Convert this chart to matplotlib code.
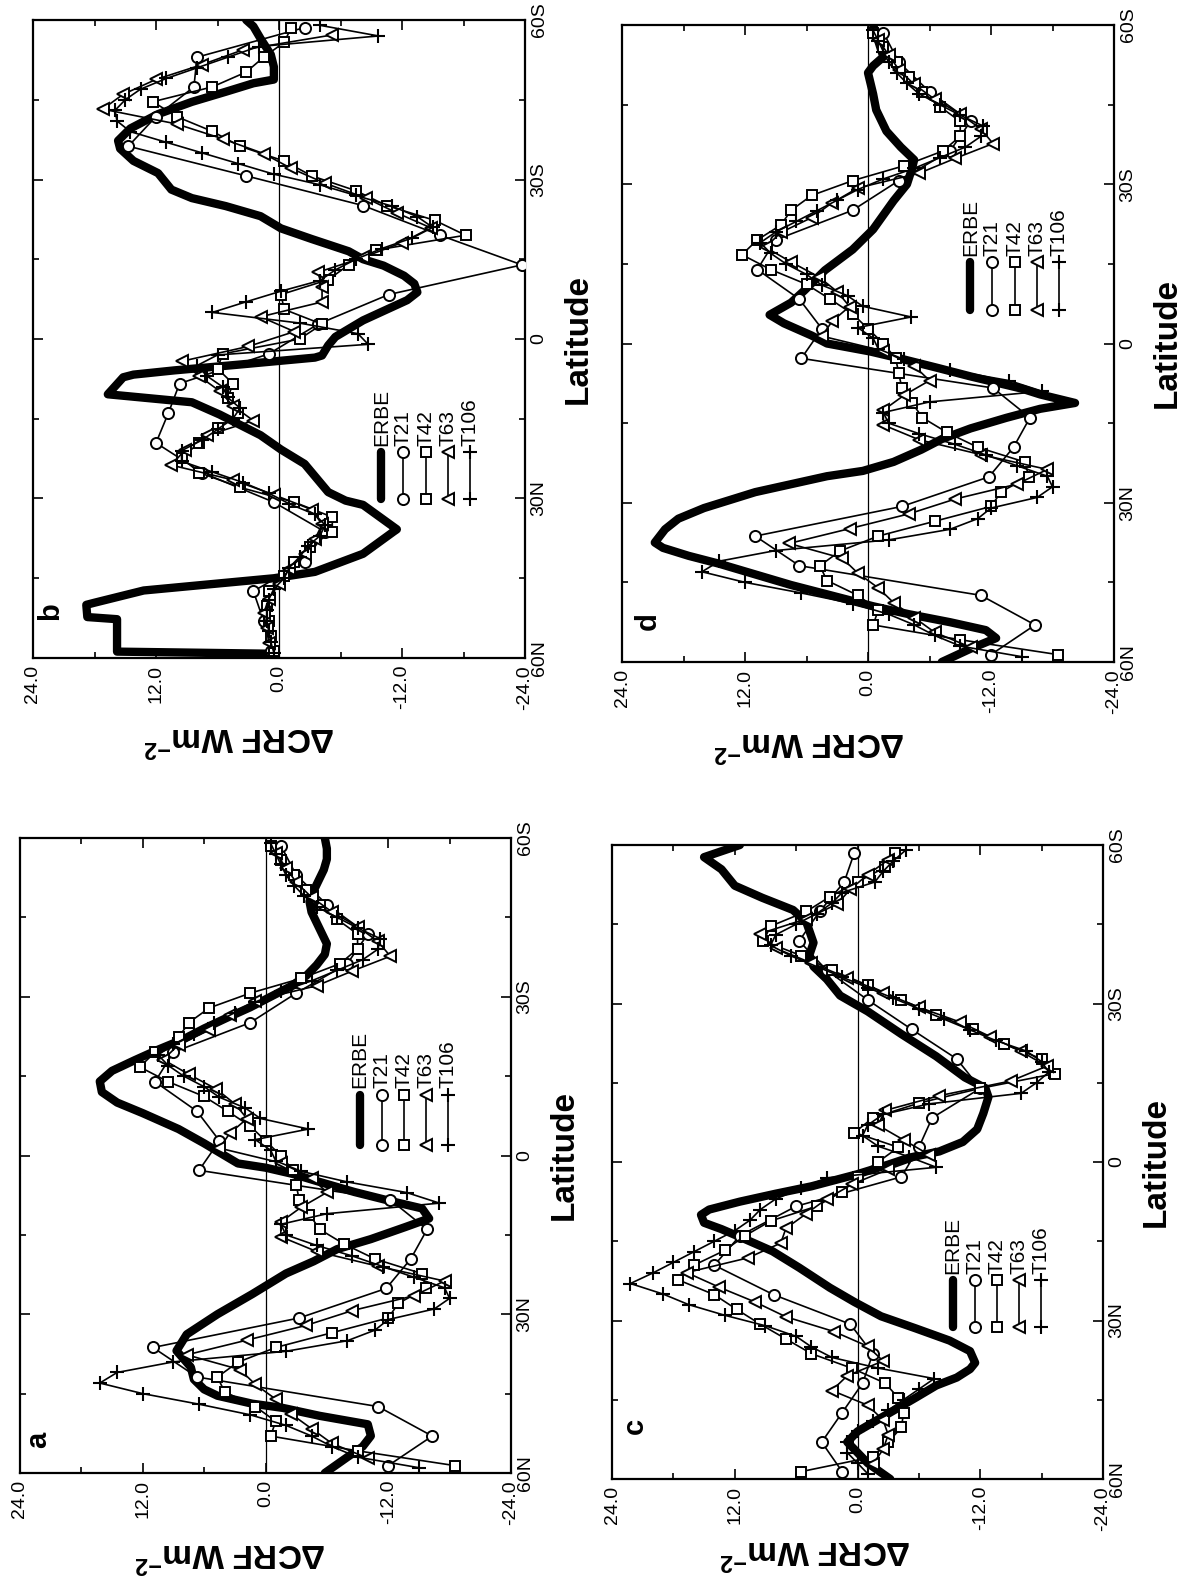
import numpy as np
import matplotlib
matplotlib.use("Agg")
import matplotlib.pyplot as plt

plt.rcParams['font.family'] = ['Liberation Sans', 'DejaVu Sans']
plt.rcParams['mathtext.fontset'] = 'custom'
plt.rcParams['mathtext.rm'] = 'Liberation Sans'
plt.rcParams['mathtext.bf'] = 'Liberation Sans:bold'

# model grid latitudes (deg, north positive)
LAT21 = 58.6 - 5.58 * np.arange(22)
LAT42 = 58.6 - 2.79 * np.arange(43)
LAT63 = 57.2 - 2.79 * np.arange(42)
LAT106 = 59.0 - 2.0 * np.arange(60)

# ---- panel a / d : same model runs ----
AD_T21 = [-12.0, -16.3, -11.0, 6.7, 11.0, -3.3, -11.8, -14.2, -15.8, -12.2, 6.5,
          4.5, 6.7, 10.8, 9.0, 1.5, -3.0, -8.0, -10.0, -6.0, -3.0, -1.5]
AD_T42 = [-18.5, -9.0, -0.5, -1.0, 1.0, 4.0, 4.7, 2.7, -1.0, -6.5,
          -12.0, -13.0, -15.7, -15.3, -10.7, -7.7, -5.3, -4.3, -3.3, -3.0,
          -2.7, -1.5, 0.0, 1.5, 3.7, 6.0, 9.5, 12.3, 10.8, 8.5,
          7.5, 5.5, 1.5, -3.5, -7.3, -9.0, -9.0, -7.0, -5.3, -4.0,
          -2.8, -1.5, -0.5]
AD_T63 = [-10.0, -6.5, -4.5, -2.5, -1.0, 1.0, 2.5, 7.7, 1.8, -4.0,
          -8.5, -14.5, -17.5, -11.0, -5.0, -1.5, -1.5, -3.5, -6.0, -4.5,
          -1.5, 4.5, 3.5, 1.8, 3.0, 4.8, 7.5, 10.0, 8.5, 5.5,
          3.5, 1.0, -5.0, -8.5, -12.2, -11.0, -9.0, -6.5, -4.5, -3.0,
          -2.0, -1.0]
AD_T106 = [-15.0, -9.0, -6.5, -4.5, -2.0, 1.5, 6.5, 12.0, 16.2, 14.5,
           9.0, -2.0, -8.0, -10.7, -12.0, -16.5, -18.0, -17.5, -14.5, -11.5,
           -8.5, -5.0, -2.0, -1.5, -6.0, -17.0, -13.8, -8.0, -3.5, -1.0,
           -0.5, 1.0, -4.2, 0.5, 2.0, 4.5, 6.0, 8.0, 9.5, 10.5,
           9.0, 7.0, 5.0, 3.0, 1.0, -1.5, -4.5, -7.0, -9.5, -11.0,
           -11.2, -9.0, -7.0, -5.0, -3.8, -2.8, -2.0, -1.5, -1.0, -0.5]

A_ERBE_LAT = [60, 57, 55, 53, 50.8, 49.2, 47.7, 46.9, 45.4, 44.2, 42.3, 40, 36.9, 33.8, 30,
              26.2, 22.3, 20, 17.7, 15.8, 13.5, 11.9, 10, 8.5, 6.9, 5, 3.5, 2.3, 1.5, -0.8,
              -2.3, -5, -8, -10, -12, -14, -16, -18, -20, -22, -24, -26, -28, -30, -32,
              -34, -36, -38, -40, -42, -44, -46, -48, -50, -52, -54, -56, -58, -60]
A_ERBE = [-5.8, -8.0, -9.5, -10.3, -10.0, -5.3, -1.7, 1.3, 4.7, 6.0, 7.0, 7.3, 8.7, 7.7, 4.7,
          1.3, -2.0, -4.7, -7.0, -10.3, -13.7, -16.0, -15.3, -12.0, -8.7, -5.3, -2.7, 0.0, 2.7, 4.7,
          6.0, 8.5, 12.0, 14.5, 16.0, 16.2, 15.0, 12.8, 10.5, 8.0, 6.0, 3.8, 1.5, -0.5, -2.5,
          -4.0, -5.0, -5.8, -6.0, -5.5, -5.0, -4.5, -4.3, -4.7, -5.2, -5.7, -6.0, -6.0, -5.8]

D_ERBE_LAT = [60, 57.5, 55.5, 54, 52.5, 51, 49.5, 47.5, 45.5, 43.5, 41.5, 40, 38.5, 37.5, 35,
              33, 31, 29.5, 28, 26.5, 25, 24, 22.3, 20, 18, 16, 14, 12.3, 11.2, 9.6,
              8.5, 6.2, 4.6, 3, 1.5, 0, -1.5, -3.8, -5.4, -7.7, -10, -13.8, -17.7, -21.5, -26.9,
              -30, -33, -34.6, -37, -40, -44, -47, -51, -52.3, -54, -57, -60]
D_ERBE = [-7.2, -10.0, -12.5, -11.5, -8.0, -4.0, -0.5, 3.5, 7.5, 11.0, 14.5, 17.5, 20.0, 20.8, 19.8,
          18.5, 16.0, 13.5, 11.0, 7.5, 4.0, 0.5, -2.5, -5.2, -7.2, -10.0, -13.5, -16.8, -20.2, -16.8,
          -15.0, -10.0, -6.8, -3.5, -0.2, 4.0, 5.5, 8.2, 9.6, 7.5, 6.2, 4.2, 1.5, -0.5, -2.5,
          -3.8, -4.3, -4.5, -3.2, -1.8, -0.8, -0.5, 0.0, -0.5, -1.5, -1.0, -0.5]

# ---- panel b ----
B_T21 = [0.8, 1.5, 2.5, -2.5, -4.5, 0.5, 7.5, 12.0, 10.8, 9.7, 1.0,
         -3.8, -10.7, -23.7, -15.7, -8.2, 3.2, 14.7, 12.0, 8.3, 8.0, -2.5]
B_T42 = [0.5, 0.8, 1.0, 1.2, 1.0, -0.5, -1.5, -3.0, -5.2, -5.2,
         -1.5, 3.8, 7.8, 9.5, 7.8, 6.0, 4.0, 5.0, 4.5, 6.0,
         5.5, -2.0, -4.2, -0.5, -0.2, -4.8, -6.8, -9.5, -18.2, -15.2,
         -10.5, -7.5, -3.2, -0.5, 3.8, 6.5, 10.0, 12.3, 6.5, 3.2,
         1.5, -0.5, -1.2]
B_T63 = [1.0, 1.2, 1.5, 1.0, 0.0, -1.0, -2.5, -3.5, -4.2, -3.2,
         0.5, 4.5, 10.5, 9.2, 7.0, 2.5, 4.5, 5.8, 7.8, 9.5,
         3.0, -1.5, 1.8, -4.2, -4.2, -3.8, -8.2, -12.0, -14.8, -11.5,
         -8.5, -4.5, -1.2, 1.5, 5.5, 10.0, 17.2, 15.2, 12.0, 7.5,
         3.5, -5.2]
B_T106 = [0.5, 0.8, 1.0, 1.2, 1.2, 1.0, 0.5, -0.5, -1.0, -2.0,
          -2.8, -4.0, -4.5, -3.5, -1.0, 1.0, 3.5, 6.5, 9.5, 9.5,
          7.5, 6.0, 4.5, 3.8, 5.0, 5.5, 7.0, 8.0, 6.0, -8.7,
          -7.7, -2.0, 6.5, 3.2, -0.2, -4.0, -5.5, -7.5, -10.0, -13.0,
          -15.0, -13.5, -11.0, -7.5, -4.0, 0.5, 4.0, 7.5, 11.0, 14.5,
          15.8, 16.0, 15.0, 13.5, 11.0, 8.0, 5.0, 2.0, -9.7, -4.0]
B_ERBE_LAT = [60, 59.2, 58.8, 52.7, 52.3, 50, 49.6, 47.3, 45, 43.8, 40.4, 36.2, 35.8, 31.2, 30.4,
              28.8, 23.5, 20.8, 18.1, 14.2, 11.9, 10.4, 7.2, 6.7, 5.9, 4.8, 3.5, 3.1, 1.2, -0.4,
              -3.5, -5.8, -7.3, -8.8, -10.4, -11.9, -13.8, -15, -16.5, -18.8, -20.8, -23.1, -25, -26.5, -28.1,
              -31.2, -33.5, -35.8, -37.3, -39.6, -42.3, -44.6, -46.5, -48.1, -48.8, -51.2, -53.5, -56.5, -58.8, -60]
B_ERBE = [0.3, 0.5, 15.8, 15.8, 18.7, 18.8, 18.0, 13.2, 0.5, -3.5, -8.2, -11.2, -11.5, -8.2, -6.5,
          -4.8, -2.5, -0.2, 1.8, 5.8, 8.5, 16.7, 15.2, 14.2, 10.2, 3.8, -3.5, -4.2, -4.8, -5.5,
          -8.2, -10.8, -12.5, -13.5, -13.2, -12.2, -10.2, -8.2, -6.8, -3.2, -0.2, 1.8, 5.2, 8.5, 10.5,
          11.8, 14.2, 15.5, 15.7, 14.5, 11.8, 8.5, 5.2, 2.5, 0.5, 0.5, 0.8, 1.8, 2.5, 3.2]

# ---- panel c ----
C_T21 = [1.5, 3.5, 1.5, -0.5, -1.5, 0.7, 8.2, 14.0, 11.5, 6.0, -4.3,
         -6.0, -7.3, -12.0, -9.7, -5.3, -1.0, 3.0, 5.7, 3.7, 1.3, 0.3]
C_T42 = [5.5, -1.5, -3.0, -4.3, -4.5, -4.0, -2.7, 0.5, 4.5, 7.0,
         9.5, 11.8, 14.0, 17.5, 16.0, 13.0, 11.0, 8.5, 4.0, 1.5,
         0.0, -2.0, -4.0, 0.3, -1.5, -6.0, -12.0, -19.3, -18.0, -14.3,
         -11.3, -7.7, -4.3, -1.0, 2.5, 5.5, 9.2, 8.5, 5.0, 2.7,
         0.0, -2.7, -3.7]
C_T63 = [-1.5, -2.5, -3.0, -2.5, -1.0, 2.5, 1.0, -2.5, -1.0, 2.3,
         7.0, 10.0, 13.5, 16.7, 10.7, 7.5, 7.0, 5.0, 3.0, 0.5,
         -3.0, -7.0, -4.5, -2.0, -2.7, -8.0, -15.0, -18.5, -16.0, -13.0,
         -10.0, -6.0, -2.5, 1.0, 4.5, 8.0, 9.5, 5.0, 2.0, 0.7,
         -1.0, -3.0]
C_T106 = [-1.0, 0.0, 1.0, 1.0, 0.0, -1.5, -3.0, -4.5, -6.0, -7.5,
          -2.0, 2.5, 4.5, 6.0, 9.0, 13.0, 16.5, 19.0, 22.2, 20.0,
          18.0, 16.0, 14.0, 12.0, 10.5, 9.5, 8.0, 5.5, 3.0, -7.7,
          -5.0, -2.0, -0.5, -1.0, -2.5, -7.0, -16.0, -17.5, -18.7, -18.0,
          -16.5, -13.5, -11.0, -8.5, -6.0, -3.5, -1.0, 1.5, 4.0, 6.5,
          8.5, 8.0, 6.0, 4.0, 2.5, 1.5, -1.7, -2.5, -3.5, -4.7]
C_ERBE_LAT = [60, 57, 53, 51, 47.3, 44.6, 42.3, 40.8, 39.2, 38, 35.8, 33.8, 31.5, 29.2, 26.5,
              23.8, 20, 16.9, 14.6, 12.7, 11.5, 10, 9, 7.5, 6, 4.6, 2.3, 0.5, -0.8, -2,
              -3.8, -6.2, -9.2, -12.3, -14, -16, -20, -24.2, -28.5, -31.5, -34.6, -37, -39.2, -41.5, -45.4,
              -47.7, -50, -52.3, -55.4, -57.7, -60]
C_ERBE = [-3.2, -1.0, 1.0, 0.0, -3.3, -5.7, -7.7, -9.7, -11.0, -11.5, -11.0, -9.0, -5.7, -2.3, 0.3,
          2.7, 5.7, 8.3, 11.0, 13.3, 15.0, 15.3, 14.5, 11.5, 8.0, 4.5, 0.0, -3.0, -5.0, -8.0,
          -10.3, -11.7, -12.3, -12.8, -12.5, -10.5, -7.7, -4.3, -1.0, 1.7, 3.0, 4.3, 4.7, 4.3, 5.0,
          6.3, 9.3, 12.0, 13.3, 15.0, 11.5]

NAMES = ['ERBE', 'T21', 'T42', 'T63', 'T106']
MODEL_GRIDS = [LAT21, LAT42, LAT63, LAT106]

STYLE = {
    'ERBE': dict(color='black', lw=6, solid_capstyle='round', solid_joinstyle='round'),
    'T21': dict(color='black', lw=1.2, marker='o', ms=8, mfc='white', mec='black', mew=1.4),
    'T42': dict(color='black', lw=1.2, marker='s', ms=7, mfc='white', mec='black', mew=1.4),
    'T63': dict(color='black', lw=1.2, marker='<', ms=8, mfc='white', mec='black', mew=1.4),
    'T106': dict(color='black', lw=1.2, marker='+', ms=10, mec='black', mew=1.5),
}

PANELS = [
    # letter, rect(px: left, right, top, bottom), erbe, models, key pos, letter pos, ylabel pos
    ('b', (33, 525, 20, 658), (B_ERBE_LAT, B_ERBE), [B_T21, B_T42, B_T63, B_T106],
     (0.708, 0.25, 0.323, 0.333), (0.035, 0.073), (0.42, -0.125)),
    ('d', (622, 1114, 25, 662), (D_ERBE_LAT, D_ERBE), [AD_T21, AD_T42, AD_T63, AD_T106],
     (0.708, 0.552, 0.628, 0.638), (0.052, 0.064), (0.382, -0.126)),
    ('a', (20, 511, 838, 1473), (A_ERBE_LAT, A_ERBE), [AD_T21, AD_T42, AD_T63, AD_T106],
     (0.692, 0.516, 0.596, 0.606), (0.0375, 0.052), (0.428, -0.126)),
    ('c', (612, 1103, 845, 1479), (C_ERBE_LAT, C_ERBE), [C_T21, C_T42, C_T63, C_T106],
     (0.694, 0.24, 0.314, 0.324), (0.046, 0.083), (0.415, -0.112)),
]

W, H = 1187, 1577
fig = plt.figure(figsize=(W / 100, H / 100), dpi=100)
fig.patch.set_facecolor('white')

for letter, (x0, x1, y0, y1), erbe, models, key, lpos, ylpos in PANELS:
    ax = fig.add_axes([x0 / W, 1 - y1 / H, (x1 - x0) / W, (y1 - y0) / H])
    ax.axvline(0, color='black', lw=0.9, zorder=1)
    ax.plot(erbe[1], erbe[0], zorder=2, **STYLE['ERBE'])
    for name, lats, vals in zip(NAMES[1:], MODEL_GRIDS, models):
        ax.plot(vals, lats, zorder=3, **STYLE[name])

    ax.set_xlim(24, -24)
    ax.set_ylim(60, -60)
    ax.set_xticks([24, 12, 0, -12, -24])
    ax.set_xticklabels(['24.0', '12.0', '0.0', '-12.0', '-24.0'], rotation=90, fontsize=14)
    ax.set_xticks([18, 6, -6, -18], minor=True)
    ax.set_yticks([60, 30, 0, -30, -60])
    ax.set_yticklabels(['60N', '30N', '0', '30S', '60S'], rotation=90, va='center', fontsize=14)
    ax.set_yticks([45, 15, -15, -45], minor=True)
    ax.tick_params(which='both', direction='in', top=True, bottom=True, left=True, right=True,
                   width=1.2)
    ax.tick_params(which='major', length=7, pad=5)
    ax.tick_params(which='minor', length=4)
    ax.tick_params(axis='y', labelleft=False, labelright=True, pad=4)
    for sp in ax.spines.values():
        sp.set_linewidth(1.6)

    ax.text(1.108, 0.5, 'Latitude', transform=ax.transAxes, rotation=90, ha='center',
            va='center', fontsize=24, fontweight='bold')
    ax.text(ylpos[0], ylpos[1], 'ΔCRF Wm$^{\\mathbf{-2}}$', transform=ax.transAxes,
            rotation=180, ha='center', va='center', fontsize=24, fontweight='bold')
    ax.text(lpos[0], lpos[1], letter, transform=ax.transAxes, rotation=90, ha='center',
            va='center', fontsize=21, fontweight='bold')

    kx, ky0, ky1, kyt = key
    for i, name in enumerate(NAMES):
        xx = kx + 0.045 * i
        ax.plot([xx, xx], [ky0, ky1], transform=ax.transAxes, clip_on=False, zorder=4,
                **STYLE[name])
        ax.text(xx, kyt, name, transform=ax.transAxes, rotation=90, ha='center',
                va='bottom', fontsize=15)

fig.savefig('out.png', dpi=100, facecolor='white')
